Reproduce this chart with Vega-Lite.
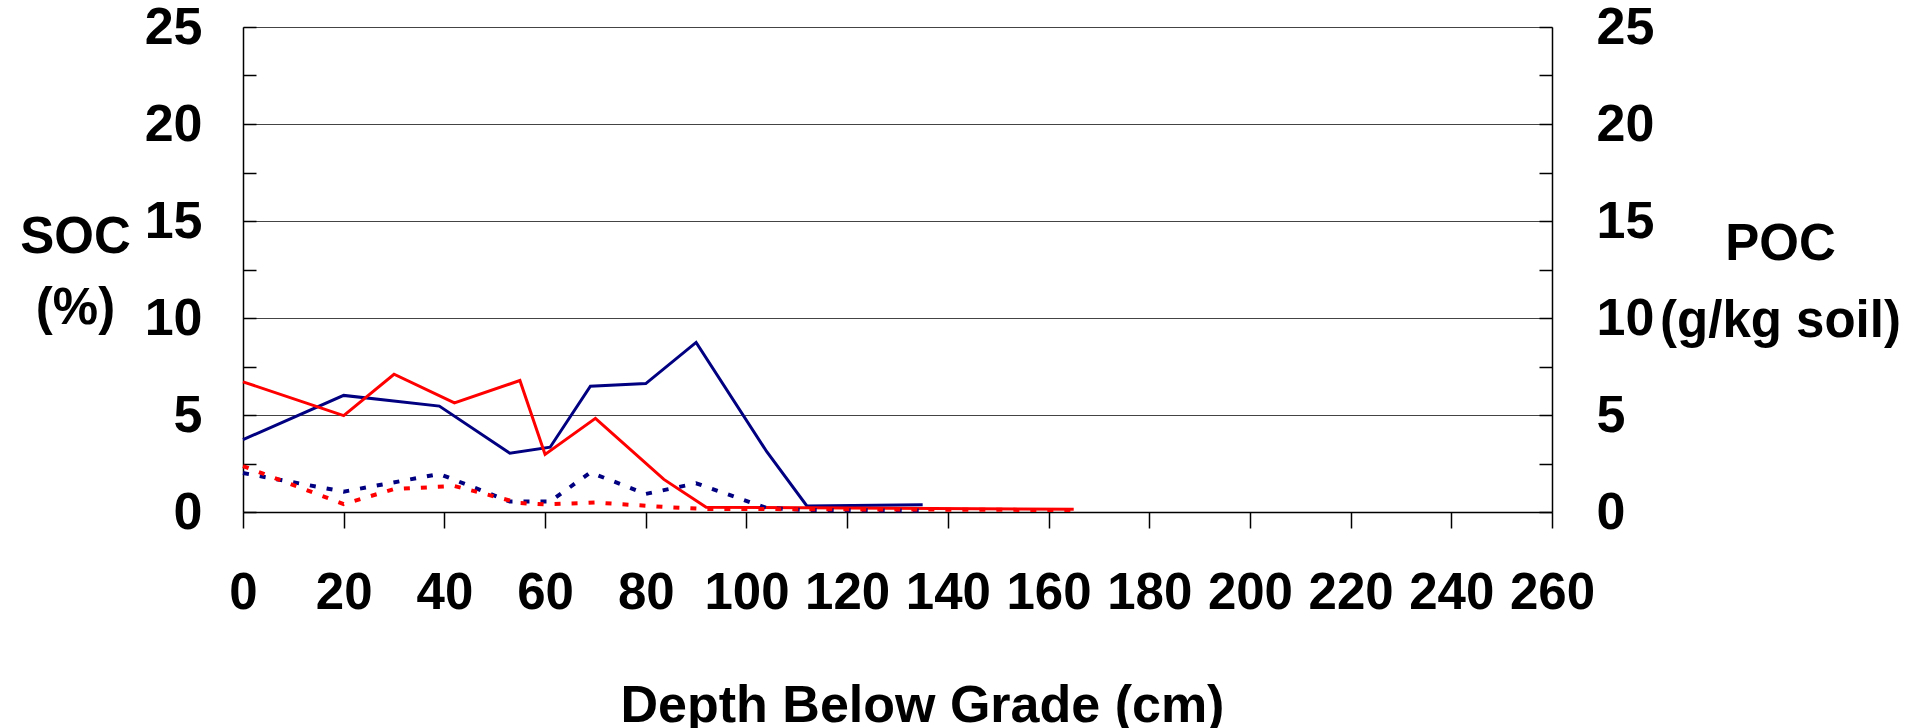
{
  "$schema": "https://vega.github.io/schema/vega-lite/v6.json",
  "width": 1309,
  "height": 485,
  "autosize": "none",
  "padding": {"left": 243, "top": 27, "right": 357, "bottom": 216},
  "background": "white",
  "config": {"view": {"stroke": null}, "font": "Liberation Sans"},
  "data": {"values": [
    {"depth": 0, "value": 3.73, "profile": "Profile 1", "measure": "SOC"},
    {"depth": 20, "value": 6.01, "profile": "Profile 1", "measure": "SOC"},
    {"depth": 39, "value": 5.46, "profile": "Profile 1", "measure": "SOC"},
    {"depth": 53, "value": 3.03, "profile": "Profile 1", "measure": "SOC"},
    {"depth": 61, "value": 3.34, "profile": "Profile 1", "measure": "SOC"},
    {"depth": 69, "value": 6.48, "profile": "Profile 1", "measure": "SOC"},
    {"depth": 80, "value": 6.62, "profile": "Profile 1", "measure": "SOC"},
    {"depth": 90, "value": 8.74, "profile": "Profile 1", "measure": "SOC"},
    {"depth": 104, "value": 3.12, "profile": "Profile 1", "measure": "SOC"},
    {"depth": 112, "value": 0.31, "profile": "Profile 1", "measure": "SOC"},
    {"depth": 135, "value": 0.38, "profile": "Profile 1", "measure": "SOC"},
    {"depth": 0, "value": 6.71, "profile": "Profile 2", "measure": "SOC"},
    {"depth": 20, "value": 4.97, "profile": "Profile 2", "measure": "SOC"},
    {"depth": 30, "value": 7.1, "profile": "Profile 2", "measure": "SOC"},
    {"depth": 42, "value": 5.62, "profile": "Profile 2", "measure": "SOC"},
    {"depth": 55, "value": 6.78, "profile": "Profile 2", "measure": "SOC"},
    {"depth": 60, "value": 2.97, "profile": "Profile 2", "measure": "SOC"},
    {"depth": 70, "value": 4.83, "profile": "Profile 2", "measure": "SOC"},
    {"depth": 83.6, "value": 1.68, "profile": "Profile 2", "measure": "SOC"},
    {"depth": 92, "value": 0.25, "profile": "Profile 2", "measure": "SOC"},
    {"depth": 165, "value": 0.14, "profile": "Profile 2", "measure": "SOC"},
    {"depth": 0, "value": 2.01, "profile": "Profile 1", "measure": "POC"},
    {"depth": 20, "value": 1.05, "profile": "Profile 1", "measure": "POC"},
    {"depth": 39, "value": 1.96, "profile": "Profile 1", "measure": "POC"},
    {"depth": 53, "value": 0.54, "profile": "Profile 1", "measure": "POC"},
    {"depth": 61, "value": 0.54, "profile": "Profile 1", "measure": "POC"},
    {"depth": 69, "value": 2.04, "profile": "Profile 1", "measure": "POC"},
    {"depth": 80, "value": 0.93, "profile": "Profile 1", "measure": "POC"},
    {"depth": 90, "value": 1.48, "profile": "Profile 1", "measure": "POC"},
    {"depth": 104, "value": 0.21, "profile": "Profile 1", "measure": "POC"},
    {"depth": 112, "value": 0.1, "profile": "Profile 1", "measure": "POC"},
    {"depth": 135, "value": 0.07, "profile": "Profile 1", "measure": "POC"},
    {"depth": 0, "value": 2.37, "profile": "Profile 2", "measure": "POC"},
    {"depth": 20, "value": 0.41, "profile": "Profile 2", "measure": "POC"},
    {"depth": 30, "value": 1.18, "profile": "Profile 2", "measure": "POC"},
    {"depth": 42, "value": 1.34, "profile": "Profile 2", "measure": "POC"},
    {"depth": 55, "value": 0.46, "profile": "Profile 2", "measure": "POC"},
    {"depth": 60, "value": 0.39, "profile": "Profile 2", "measure": "POC"},
    {"depth": 70, "value": 0.49, "profile": "Profile 2", "measure": "POC"},
    {"depth": 83.6, "value": 0.26, "profile": "Profile 2", "measure": "POC"},
    {"depth": 92, "value": 0.16, "profile": "Profile 2", "measure": "POC"},
    {"depth": 165, "value": 0.1, "profile": "Profile 2", "measure": "POC"}
  ]},
  "encoding": {
    "x": {
      "field": "depth", "type": "quantitative",
      "scale": {"domain": [0, 260], "nice": false, "zero": false},
      "axis": {
        "values": [0, 20, 40, 60, 80, 100, 120, 140, 160, 180, 200, 220, 240, 260],
        "grid": false, "domainColor": "black", "domainWidth": 1.5,
        "tickColor": "black", "tickSize": 16, "tickWidth": 1.5,
        "labelFont": "Liberation Sans", "labelFontWeight": "bold", "labelFontSize": 51, "labelColor": "black",
        "labelPadding": 40, "labelFlush": false, "labelOverlap": false,
        "title": "Depth Below Grade (cm)", "titleFont": "Liberation Sans", "titleFontWeight": "bold", "titleFontSize": 52, "titleColor": "black",
        "titleX": 679, "titleY": 209, "titleAnchor": null, "titleAlign": "center", "titleBaseline": "alphabetic"
      }
    },
    "color": {
      "field": "profile", "type": "nominal",
      "scale": {"domain": ["Profile 1", "Profile 2"], "range": ["#000080", "#FF0000"]},
      "legend": null
    }
  },
  "layer": [
    {
      "transform": [{"filter": "datum.measure === 'SOC'"}],
      "mark": {"type": "line", "strokeWidth": 3},
      "encoding": {
        "y": {
          "field": "value", "type": "quantitative",
          "scale": {"domain": [0, 25], "nice": false},
          "axis": {
            "orient": "left",
            "values": [0, 2.5, 5, 7.5, 10, 12.5, 15, 17.5, 20, 22.5, 25],
            "labelExpr": "datum.value % 5 === 0 ? datum.label : ''",
            "grid": true, "gridColor": "#444", "gridWidth": 1,
            "gridOpacity": {"condition": {"test": "datum.value % 5 === 0", "value": 1}, "value": 0},
            "domainColor": "black", "domainWidth": 1.5,
            "tickColor": "black", "tickSize": -13, "tickWidth": 1.5,
            "labelFont": "Liberation Sans", "labelFontWeight": "bold", "labelFontSize": 52, "labelColor": "black",
            "labelPadding": 54,
            "title": ["SOC", "(%)"], "titleFont": "Liberation Sans", "titleFontWeight": "bold", "titleFontSize": 51, "titleColor": "black",
            "titleAngle": 0, "titleX": -168, "titleY": 225, "titleAlign": "center", "titleBaseline": "alphabetic", "titleLineHeight": 71, "titleAnchor": null
          }
        }
      }
    },
    {
      "transform": [{"filter": "datum.measure === 'POC'"}],
      "mark": {"type": "line", "strokeWidth": 4, "strokeDash": [6, 11], "strokeCap": "butt"},
      "encoding": {
        "y": {
          "field": "value", "type": "quantitative",
          "scale": {"domain": [0, 25], "nice": false},
          "axis": {
            "orient": "right",
            "values": [0, 2.5, 5, 7.5, 10, 12.5, 15, 17.5, 20, 22.5, 25],
            "labelExpr": "datum.value % 5 === 0 ? datum.label : ''",
            "grid": false,
            "domainColor": "black", "domainWidth": 1.5,
            "tickColor": "black", "tickSize": -13, "tickWidth": 1.5,
            "labelFont": "Liberation Sans", "labelFontWeight": "bold", "labelFontSize": 52, "labelColor": "black",
            "labelPadding": 57,
            "title": ["POC", "(g/kg soil)"], "titleFont": "Liberation Sans", "titleFontWeight": "bold", "titleFontSize": 51, "titleColor": "black",
            "titleAngle": 0, "titleX": 228, "titleY": 232, "titleAlign": "center", "titleBaseline": "alphabetic", "titleLineHeight": 77, "titleAnchor": null
          }
        }
      }
    }
  ],
  "resolve": {"scale": {"y": "independent"}}
}
